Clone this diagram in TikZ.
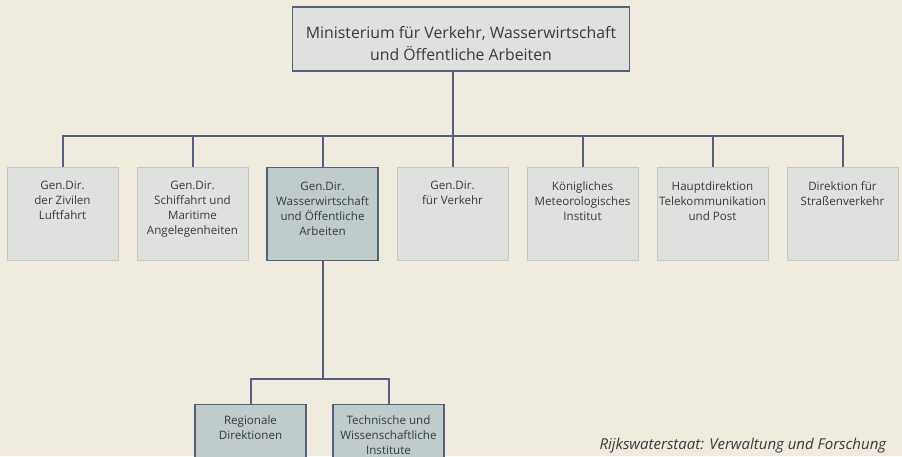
\documentclass[tikz,border=0pt]{standalone}
\usepackage{fontspec}
\setmainfont{Open Sans}
\definecolor{papier}{RGB}{239,235,222}
\definecolor{linienfarbe}{RGB}{86,96,122}
\definecolor{kastenhell}{RGB}{222,225,222}
\definecolor{kastendunkel}{RGB}{192,204,204}
\definecolor{rahmenhell}{RGB}{198,200,198}
\definecolor{schrift}{RGB}{58,58,62}
\tikzset{
    linie/.style={draw=linienfarbe, line width=2pt},
    amt/.style={draw=rahmenhell, fill=kastenhell, line width=0.7pt, anchor=north,
        inner xsep=1pt, inner ysep=14pt, text=schrift,
        font=\fontsize{11.6}{15}\selectfont},
    hauptamt/.style={amt, draw=linienfarbe, fill=kastendunkel, line width=1.3pt},
    unteramt/.style={hauptamt, inner ysep=11pt},
    ministerium/.style={draw=linienfarbe, fill=kastenhell, line width=1.4pt,
        minimum width=337pt, minimum height=64pt, align=center, text=schrift,
        font=\fontsize{15.8}{22}\selectfont},
}
\newcommand{\amttext}[1]{\parbox[t][65pt][t]{109pt}{\centering #1}}
\begin{document}
\begin{tikzpicture}[x=1pt, y=-1pt]
        \clip (0,0) rectangle (902,456);
        \fill[papier] (0,0) rectangle (902,456);
        % Ministerium
        \node[ministerium] (min) at (461,39) {\rule{0pt}{22pt}Ministerium für Verkehr, Wasserwirtschaft\\und Öffentliche Arbeiten};
        % Generaldirektionen
        \node[amt] (luft) at (62.5,167) {\amttext{Gen.Dir.\\der Zivilen\\Luftfahrt}};
        \node[amt] (schiff) at (192.5,167) {\amttext{Gen.Dir.\\Schiffahrt und\\Maritime\\Angelegenheiten}};
        \node[hauptamt] (wasser) at (322.5,167) {\amttext{Gen.Dir.\\Wasserwirtschaft\\und Öffentliche\\Arbeiten}};
        \node[amt] (verkehr) at (452.5,167) {\amttext{Gen.Dir.\\für Verkehr}};
        \node[amt] (meteo) at (582.5,167) {\amttext{Königliches\\Meteorologisches\\Institut}};
        \node[amt] (post) at (712.5,167) {\amttext{Hauptdirektion\\Telekommunikation\\und Post}};
        \node[amt] (strasse) at (842.5,167) {\amttext{Direktion für\\Straßenverkehr}};
        % Unterabteilungen
        \node[unteramt] (regional) at (250.5,404) {\amttext{Regionale\\Direktionen}};
        \node[unteramt] (institute) at (388.5,404) {\amttext{Technische und\\Wissenschaftliche\\Institute}};
        % Verbindungen
        \draw[linie] (min.south -| verkehr.north) -- (verkehr.north);
        \draw[linie] (luft.north) -- ++(0,-31) -| (strasse.north);
        \draw[linie] (schiff.north) -- ++(0,-31);
        \draw[linie] (wasser.north) -- ++(0,-31);
        \draw[linie] (meteo.north) -- ++(0,-31);
        \draw[linie] (post.north) -- ++(0,-31);
        \draw[linie] (wasser.south) -- ++(0,119);
        \draw[linie] (regional.north) -- ++(0,-25) -| (institute.north);
        \node[anchor=base west, text=schrift, font=\fontsize{15}{18}\selectfont\itshape] (quelle) at (596,449) {Rijkswaterstaat: Verwaltung und Forschung};
    \end{tikzpicture}
\end{document}
